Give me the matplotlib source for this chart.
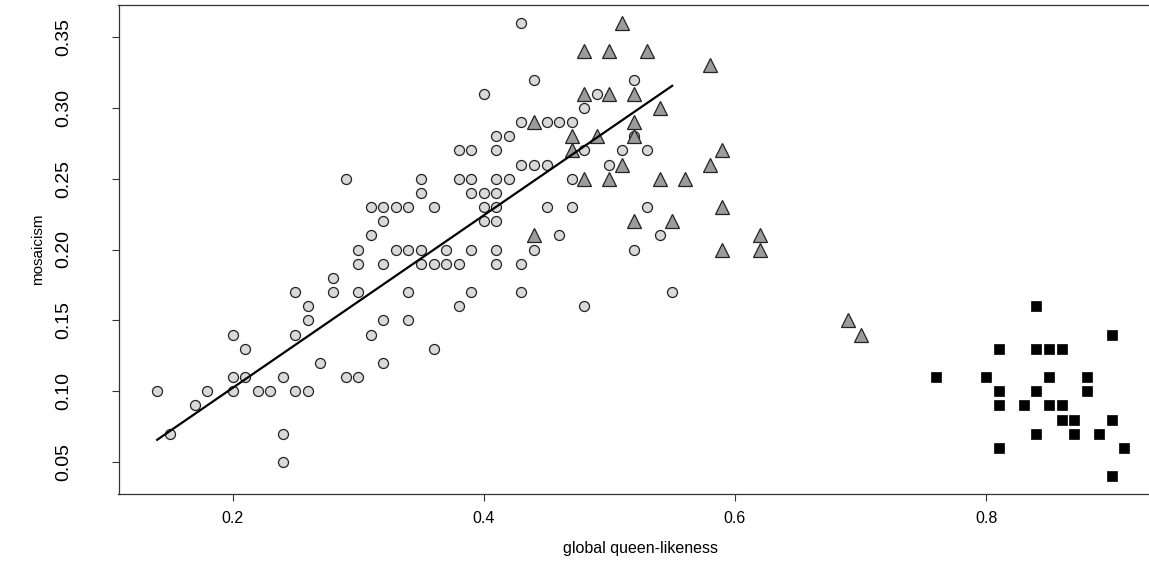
import matplotlib
matplotlib.use("Agg")
import matplotlib.pyplot as plt
import numpy as np

plt.rcParams["font.family"] = ["Liberation Sans", "DejaVu Sans"]

# group 1: open circles (light grey)
circle_x = [
    0.14, 0.15, 0.17, 0.18, 0.20, 0.20, 0.20, 0.21, 0.21, 0.22,
    0.23, 0.24, 0.24, 0.24, 0.25, 0.25, 0.25, 0.26, 0.26, 0.26,
    0.27, 0.28, 0.28, 0.29, 0.29, 0.30, 0.30, 0.30, 0.30, 0.31,
    0.31, 0.31, 0.32, 0.32, 0.32, 0.32, 0.32, 0.33, 0.33, 0.34,
    0.34, 0.34, 0.34, 0.35, 0.35, 0.35, 0.35, 0.36, 0.36, 0.36,
    0.37, 0.37, 0.38, 0.38, 0.38, 0.38, 0.39, 0.39, 0.39, 0.39,
    0.39, 0.40, 0.40, 0.40, 0.40, 0.41, 0.41, 0.41, 0.41, 0.41,
    0.41, 0.41, 0.41, 0.42, 0.42, 0.43, 0.43, 0.43, 0.43, 0.43,
    0.44, 0.44, 0.44, 0.45, 0.45, 0.45, 0.46, 0.46, 0.47, 0.47,
    0.47, 0.48, 0.48, 0.48, 0.49, 0.50, 0.51, 0.52, 0.52, 0.52,
    0.53, 0.53, 0.54, 0.55,
]
circle_y = [
    0.10, 0.07, 0.09, 0.10, 0.14, 0.11, 0.10, 0.13, 0.11, 0.10,
    0.10, 0.11, 0.07, 0.05, 0.17, 0.14, 0.10, 0.16, 0.15, 0.10,
    0.12, 0.18, 0.17, 0.25, 0.11, 0.20, 0.19, 0.17, 0.11, 0.23,
    0.21, 0.14, 0.23, 0.22, 0.19, 0.15, 0.12, 0.23, 0.20, 0.23,
    0.20, 0.17, 0.15, 0.25, 0.24, 0.20, 0.19, 0.23, 0.19, 0.13,
    0.20, 0.19, 0.27, 0.25, 0.19, 0.16, 0.27, 0.25, 0.24, 0.20,
    0.17, 0.31, 0.24, 0.23, 0.22, 0.28, 0.27, 0.25, 0.24, 0.23,
    0.22, 0.20, 0.19, 0.28, 0.25, 0.36, 0.29, 0.26, 0.19, 0.17,
    0.32, 0.26, 0.20, 0.29, 0.26, 0.23, 0.29, 0.21, 0.29, 0.25,
    0.23, 0.30, 0.27, 0.16, 0.31, 0.26, 0.27, 0.32, 0.28, 0.20,
    0.27, 0.23, 0.21, 0.17,
]

# group 2: grey triangles
tri_x = [
    0.44, 0.44, 0.47, 0.47, 0.48, 0.48, 0.48, 0.49, 0.50, 0.50,
    0.50, 0.51, 0.51, 0.52, 0.52, 0.52, 0.52, 0.53, 0.54, 0.54,
    0.55, 0.56, 0.58, 0.58, 0.59, 0.59, 0.59, 0.62, 0.62, 0.69,
    0.70,
]
tri_y = [
    0.29, 0.21, 0.28, 0.27, 0.34, 0.31, 0.25, 0.28, 0.34, 0.31,
    0.25, 0.36, 0.26, 0.31, 0.29, 0.28, 0.22, 0.34, 0.30, 0.25,
    0.22, 0.25, 0.33, 0.26, 0.27, 0.23, 0.20, 0.21, 0.20, 0.15,
    0.14,
]

# group 3: black squares
sq_x = [
    0.76, 0.80, 0.81, 0.81, 0.81, 0.81, 0.83, 0.84, 0.84, 0.84,
    0.84, 0.85, 0.85, 0.85, 0.86, 0.86, 0.86, 0.87, 0.87, 0.88,
    0.88, 0.89, 0.90, 0.90, 0.90, 0.91,
]
sq_y = [
    0.11, 0.11, 0.13, 0.10, 0.09, 0.06, 0.09, 0.16, 0.13, 0.10,
    0.07, 0.13, 0.11, 0.09, 0.13, 0.09, 0.08, 0.08, 0.07, 0.11,
    0.10, 0.07, 0.14, 0.08, 0.04, 0.06,
]

fig = plt.figure(figsize=(11.49, 5.72), dpi=100)
# R-like plot region (right edge falls just outside the image)
ax = fig.add_axes([118.5 / 1149, 77.7 / 572, 1044.5 / 1149, 489.6 / 572])

ax.plot(circle_x, circle_y, linestyle="none", marker="o", ms=7.2,
        mfc="#d9d9d9", mec="#222222", mew=0.9)
ax.plot(tri_x, tri_y, linestyle="none", marker="^", ms=10.5,
        mfc="#9c9c9c", mec="#222222", mew=0.9)
ax.plot(sq_x, sq_y, linestyle="none", marker="s", ms=7.3,
        mfc="black", mec="black", mew=0.5)

# major axis regression line of the circle group, over its x range
cx = np.array(circle_x)
cy = np.array(circle_y)
cov = np.cov(cx, cy)
sxx, syy, sxy = cov[0, 0], cov[1, 1], cov[0, 1]
slope = ((syy - sxx) + np.sqrt((syy - sxx) ** 2 + 4 * sxy ** 2)) / (2 * sxy)
intercept = cy.mean() - slope * cx.mean()
xs = np.array([cx.min(), cx.max()])
ax.plot(xs, intercept + slope * xs, color="black", lw=1.6)

# R default 4% padding
xr = max(sq_x) - min(circle_x)
yr = max(circle_y + tri_y) - min(sq_y)
ax.set_xlim(min(circle_x) - 0.04 * xr, max(sq_x) + 0.04 * xr)
ax.set_ylim(min(sq_y) - 0.04 * yr, max(circle_y + tri_y) + 0.04 * yr)

ax.set_xticks([0.2, 0.4, 0.6, 0.8])
ax.set_xticklabels(["0.2", "0.4", "0.6", "0.8"], fontsize=11.5)
yt = [0.05, 0.10, 0.15, 0.20, 0.25, 0.30, 0.35]
ax.set_yticks(yt)
ax.set_yticklabels([f"{v:.2f}" for v in yt], fontsize=14, rotation=90,
                   va="center")
ax.tick_params(axis="x", direction="out", length=5, width=0.8, pad=7,
               color="#333333")
ax.tick_params(axis="y", direction="out", length=5, width=0.8, pad=28,
               color="#333333")

for s in ax.spines.values():
    s.set_linewidth(0.9)
    s.set_color("#333333")

ax.set_xlabel("global queen-likeness", fontsize=11.5, labelpad=11)
ax.set_ylabel("mosaicism", fontsize=11, labelpad=8)

fig.savefig("out.png", dpi=100)
